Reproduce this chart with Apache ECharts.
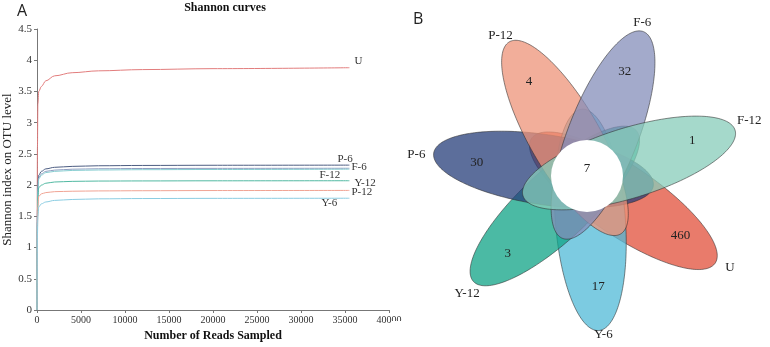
<!DOCTYPE html>
<html><head><meta charset="utf-8">
<script src="https://cdn.jsdelivr.net/npm/echarts@6/dist/echarts.min.js"></script>
<style>html,body{margin:0;padding:0;background:#fff}#c{width:770px;height:347px}</style>
</head><body><div id="c"></div>
<script>
// ---------- data: panel A (Shannon rarefaction curves) ----------
const xTickValues = [0, 5000, 10000, 15000, 20000, 25000, 30000, 35000, 40000];
const yTickValues = [0, 0.5, 1, 1.5, 2, 2.5, 3, 3.5, 4, 4.5];
const readsSampled = [0, 50, 100, 200, 500, 1000, 2000, 4000, 7000, 12000, 20000, 35500];
const shannonU   = [0, 2.60, 3.30, 3.50, 3.58, 3.67, 3.75, 3.80, 3.83, 3.85, 3.865, 3.88];
const shannonP6  = [0, 1.60, 2.00, 2.16, 2.22, 2.26, 2.285, 2.30, 2.31, 2.315, 2.318, 2.32];
const shannonF6  = [0, 1.55, 1.95, 2.12, 2.18, 2.22, 2.24, 2.255, 2.262, 2.266, 2.268, 2.27];
const shannonF12 = [0, 1.50, 1.90, 2.10, 2.16, 2.20, 2.22, 2.235, 2.242, 2.247, 2.25, 2.255];
const shannonY12 = [0, 1.40, 1.80, 1.96, 2.00, 2.03, 2.05, 2.06, 2.065, 2.067, 2.069, 2.07];
const shannonP12 = [0, 1.30, 1.65, 1.82, 1.86, 1.88, 1.895, 1.902, 1.907, 1.91, 1.913, 1.915];
const shannonY6  = [0, 1.20, 1.50, 1.65, 1.70, 1.73, 1.755, 1.77, 1.78, 1.785, 1.788, 1.79];
const curveNames  = ['U', 'P-6', 'F-6', 'F-12', 'Y-12', 'P-12', 'Y-6'];
const curveValues = [shannonU, shannonP6, shannonF6, shannonF12, shannonY12, shannonP12, shannonY6];

// ---------- data: panel B (flower / Venn diagram) ----------
const vennSets   = ['P-6', 'P-12', 'F-6', 'F-12', 'U', 'Y-6', 'Y-12'];
const vennUnique = [30, 4, 32, 1, 460, 17, 3];
const vennCore   = 7;

// ---------- styles ----------
const SERIF = '"Liberation Serif", "DejaVu Serif", serif';
const curveColor = {'U':'#e27d7d','P-6':'#4d5d82','F-6':'#8f9dc0','F-12':'#86cdd0','Y-12':'#52b9a2','P-12':'#f0a494','Y-6':'#8bcde2'};
const curveLabelOffset = {'U':[5,-7],'P-6':[-12,-6.5],'F-6':[2,-1],'F-12':[-30,6],'Y-12':[5,2],'P-12':[2,1.5],'Y-6':[-28,4.5]};
const PETAL_ALPHA = 0.75;
const petalRGB = {'P-6':[38,62,122],'P-12':[238,147,120],'F-6':[132,142,186],'F-12':[135,204,186],'U':[226,79,58],'Y-6':[80,186,215],'Y-12':[15,163,134]};
const drawOrder = ['U','Y-6','Y-12','P-6','P-12','F-6','F-12'];

// flower geometry (in panel pixel units)
const VW = 380, VH = 347;
const CEN = [197, 176];
const START = 171.5, STEP = 360 / vennSets.length;
const PD = 44, PA = 111, PB = 35, CORE_R = 36;

function petalAngle(name){ return (START - vennSets.indexOf(name) * STEP) * Math.PI / 180; }
function rgba(c, a){ return 'rgba(' + c[0] + ',' + c[1] + ',' + c[2] + ',' + a + ')'; }

const series = curveNames.map((nm, i) => ({
  type: 'line', name: nm, xAxisIndex: 0, yAxisIndex: 0,
  data: readsSampled.map((x, j) => [x, curveValues[i][j]]),
  showSymbol: false, symbol: 'none', smooth: 0.35, smoothMonotone: 'x',
  lineStyle: { color: curveColor[nm], width: 1 },
  itemStyle: { color: curveColor[nm] },
  silent: true, animation: false,
  endLabel: { show: true, formatter: nm, distance: 0, offset: curveLabelOffset[nm],
    fontFamily: SERIF, fontSize: 11, color: '#333', align: 'left', verticalAlign: 'middle' }
}));

// petals
series.push({
  type: 'custom', xAxisIndex: 1, yAxisIndex: 1, silent: true, animation: false, z: 3,
  data: drawOrder.map(nm => [vennSets.indexOf(nm)]),
  renderItem: function (params, api) {
    const nm = vennSets[api.value(0)];
    const phi = petalAngle(nm);
    const ex = CEN[0] + PD * Math.cos(phi), ey = CEN[1] - PD * Math.sin(phi);
    const pts = [];
    for (let t = 0; t < 200; t++) {
      const th = t / 200 * Math.PI * 2;
      const u = PA * Math.cos(th), v = PB * Math.sin(th);
      const px = ex + u * Math.cos(phi) - v * Math.sin(phi);
      const py = ey - (u * Math.sin(phi) + v * Math.cos(phi));
      pts.push(api.coord([px, py]));
    }
    return { type: 'polygon', shape: { points: pts },
      style: { fill: rgba(petalRGB[nm], PETAL_ALPHA), stroke: 'rgba(45,45,45,0.7)', lineWidth: 0.8 },
      z2: params.dataIndex };
  }
});

// core circle + text
series.push({
  type: 'custom', xAxisIndex: 1, yAxisIndex: 1, silent: true, animation: false, z: 5,
  data: [[vennCore]],
  renderItem: function (params, api) {
    const c = api.coord(CEN);
    const r = api.size([CORE_R, 0])[0];
    return { type: 'group', children: [
      { type: 'circle', shape: { cx: c[0], cy: c[1], r: r }, style: { fill: '#fff' } },
      { type: 'text', x: c[0], y: c[1] - 7, style: { text: String(api.value(0)), font: '13px ' + SERIF, fill: '#222', align: 'center', verticalAlign: 'middle' } }
    ]};
  }
});

// petal labels
series.push({
  type: 'custom', xAxisIndex: 1, yAxisIndex: 1, silent: true, animation: false, z: 6,
  data: vennSets.map((nm, i) => [i, vennUnique[i]]),
  renderItem: function (params, api) {
    const nm = vennSets[api.value(0)];
    const phi = petalAngle(nm);
    const a1 = phi + 1.5 * Math.PI / 180, a2 = phi + 1.5 * Math.PI / 180;
    const r2 = 158 + 14 * Math.abs(Math.cos(a2));
    const p1 = api.coord([CEN[0] + 111 * Math.cos(a1), CEN[1] - 111 * Math.sin(a1)]);
    const p2 = api.coord([CEN[0] + r2 * Math.cos(a2), CEN[1] - r2 * Math.sin(a2)]);
    return { type: 'group', children: [
      { type: 'text', x: p1[0], y: p1[1], style: { text: String(api.value(1)), font: '13px ' + SERIF, fill: '#222', align: 'center', verticalAlign: 'middle' } },
      { type: 'text', x: p2[0], y: p2[1], style: { text: nm, font: '13px ' + SERIF, fill: '#222', align: 'center', verticalAlign: 'middle' } }
    ]};
  }
});

const chart = echarts.init(document.getElementById('c'), null, { renderer: 'canvas' });
chart.setOption({
  animation: false,
  backgroundColor: '#fff',
  grid: [
    { left: 37, top: 29, width: 352, height: 290 },
    { left: 390, top: 0, width: VW, height: VH }
  ],
  xAxis: [
    { type: 'value', gridIndex: 0, min: xTickValues[0], max: xTickValues[xTickValues.length - 1],
      interval: xTickValues[1] - xTickValues[0],
      name: 'Number of Reads Sampled', nameLocation: 'middle', nameGap: 20,
      nameTextStyle: { fontFamily: SERIF, fontSize: 12, fontWeight: 'bold', color: '#111' },
      axisLine: { lineStyle: { color: '#777', width: 1 } },
      axisTick: { show: true, length: 3, lineStyle: { color: '#777' } },
      axisLabel: { fontFamily: SERIF, fontSize: 10, color: '#333', margin: 5, formatter: v => String(v) },
      splitLine: { show: false } },
    { type: 'value', gridIndex: 1, min: 0, max: VW, show: false }
  ],
  yAxis: [
    { type: 'value', gridIndex: 0, min: yTickValues[0], max: yTickValues[yTickValues.length - 1],
      interval: yTickValues[1] - yTickValues[0],
      name: 'Shannon index on OTU level', nameLocation: 'middle', nameGap: 22,
      nameTextStyle: { fontFamily: SERIF, fontSize: 13, color: '#222' },
      axisLine: { show: true, lineStyle: { color: '#777', width: 1 } },
      axisTick: { show: true, length: 3, lineStyle: { color: '#777' } },
      axisLabel: { fontFamily: SERIF, fontSize: 11, color: '#333', margin: 5, formatter: v => String(v) },
      splitLine: { show: false } },
    { type: 'value', gridIndex: 1, min: 0, max: VH, inverse: true, show: false }
  ],
  graphic: [
    { type: 'text', left: 17, top: 3, style: { text: 'A', font: '16px "Open Sans", "Noto Sans", sans-serif', fill: '#222' } },
    { type: 'text', left: 413, top: 11, style: { text: 'B', font: '16px "Open Sans", "Noto Sans", sans-serif', fill: '#222' } },
    { type: 'text', x: 225, y: 2, style: { text: 'Shannon curves', font: 'bold 12px ' + SERIF, fill: '#111', align: 'center', verticalAlign: 'top' } },
    { type: 'rect', shape: { x: 392, y: 321, width: 20, height: 14 }, style: { fill: '#fff' }, z: 100 }
  ],
  series: series
});
</script>
</body></html>
